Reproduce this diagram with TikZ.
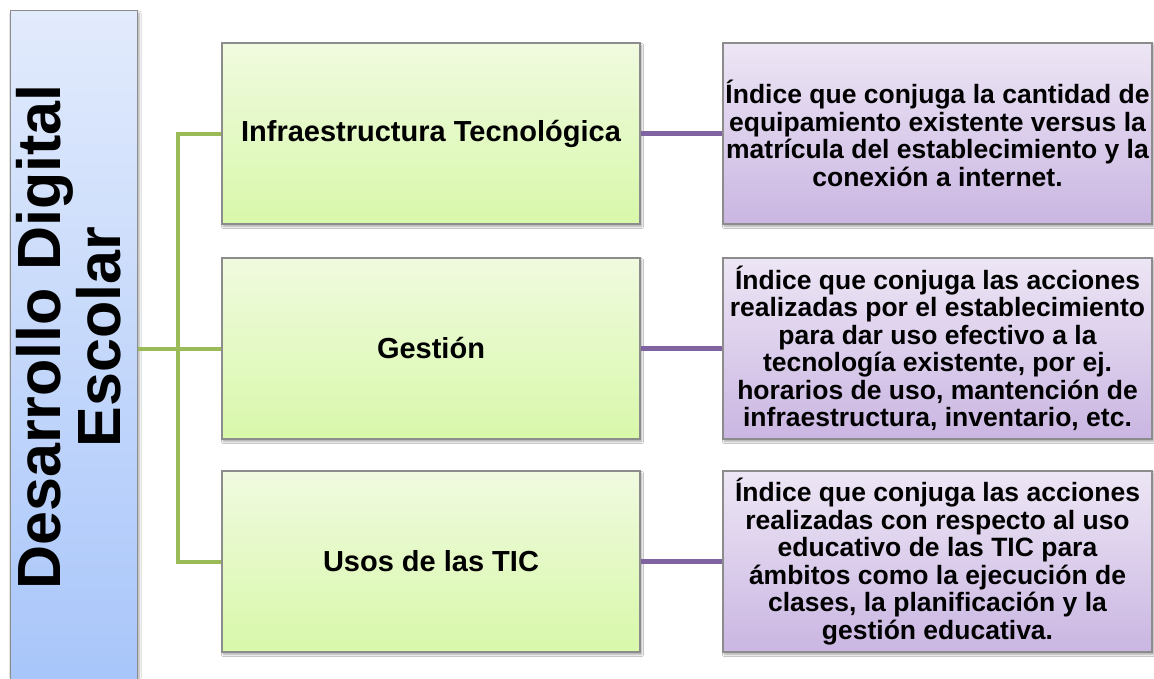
\documentclass[tikz,border=0pt]{standalone}
\usepackage{fontspec}
\setmainfont{Liberation Sans}
\usetikzlibrary{shadows.blur}
\definecolor{azultop}{HTML}{E2EBFC}
\definecolor{azulbot}{HTML}{A6C4FA}
\definecolor{verdetop}{HTML}{F0FADF}
\definecolor{verdebot}{HTML}{D8F8AA}
\definecolor{lilatop}{HTML}{EDE6F5}
\definecolor{lilabot}{HTML}{CAB6E2}
\definecolor{verdelinea}{HTML}{9BBB59}
\definecolor{lilalinea}{HTML}{8064A2}

\begin{document}
\begin{tikzpicture}[x=1pt,y=-1pt,
  caja/.style={draw=black!45, line width=1.2pt, inner sep=1pt, align=center,
    blur shadow={shadow xshift=1.5pt, shadow yshift=-2.5pt, shadow blur steps=6, shadow opacity=35}},
  ejebox/.style={caja, top color=azultop, bottom color=azulbot, minimum width=127pt, minimum height=700pt, anchor=north west},
  dimbox/.style={caja, top color=verdetop, bottom color=verdebot, minimum width=418pt, minimum height=181pt,
    font=\bfseries\fontsize{29}{31}\selectfont},
  descbox/.style={caja, top color=lilatop, bottom color=lilabot, minimum width=429pt, minimum height=181pt,
    font=\bfseries\fontsize{26.5}{27.5}\selectfont},
  ramaverde/.style={draw=verdelinea, line width=4pt},
  ramalila/.style={draw=lilalinea, line width=4.5pt}]
\useasboundingbox (0,0) rectangle (1154,678);
\clip (0,0) rectangle (1154,678);
\fill[white] (0,0) rectangle (1154,678);
\node[ejebox] (escolar) at (10,10) {};
\node[rotate=90, align=center, inner sep=0pt, font=\bfseries\fontsize{61}{60}\selectfont] (escolartxt) at (69,337) {Desarrollo Digital\\Escolar};
\node[dimbox] (infra) at (431,133.5) {Infraestructura Tecnológica};
\node[dimbox] (gestion) at (431,348.5) {Gestión};
\node[dimbox] (usos) at (431,561.5) {Usos de las TIC};
\node[descbox] (infradesc) at (937.5,133.5) {Índice que conjuga la cantidad de\\equipamiento existente versus la\\matrícula del establecimiento y la\\conexión a internet.};
\node[descbox] (gestiondesc) at (937.5,348.5) {Índice que conjuga las acciones\\realizadas por el establecimiento\\para dar uso efectivo a la\\tecnología existente, por ej.\\horarios de uso, mantención de\\infraestructura, inventario, etc.};
\node[descbox] (usosdesc) at (937.5,561.5) {Índice que conjuga las acciones\\realizadas con respecto al uso\\educativo de las TIC para\\ámbitos como la ejecución de\\clases, la planificación y la\\gestión educativa.};
\draw[ramaverde] (infra.west) -- ++(-43,0) |- (usos.west);
\draw[ramaverde] (escolar.east |- gestion.west) -- (gestion.west);
\draw[ramalila] (infra.east) -- (infradesc.west);
\draw[ramalila] (gestion.east) -- (gestiondesc.west);
\draw[ramalila] (usos.east) -- (usosdesc.west);
\end{tikzpicture}
\end{document}
